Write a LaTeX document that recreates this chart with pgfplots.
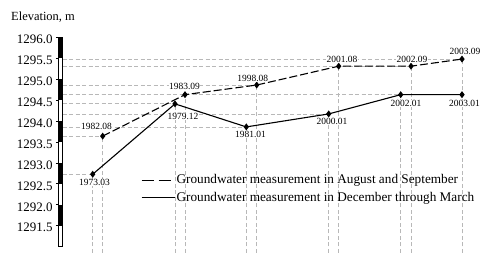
\documentclass[border=0pt]{standalone}
\usepackage{pgfplots}
\pgfplotsset{compat=1.18}
\usepackage{pgfplotstable}
\usepackage{fontspec}
\setmainfont{Liberation Serif}

% Groundwater measurement in August and September (dashed)
\pgfplotstableread{
x     y        label    dx    dy
102.7 1293.64  1982.08  -6.2  9.3
185.0 1294.63  1983.09  -0.5  7.8
256.7 1294.86  1998.08  -3.9  6.7
338.7 1295.31  2001.08   3.3  6.7
411.0 1295.31  2002.09   1.0  6.7
462.0 1295.48  2003.09   3.0  7.3
}\augsep

% Groundwater measurement in December through March (solid)
\pgfplotstableread{
x     y        label    dx    dy
92.7  1292.73  1973.03   1.8  -8.7
175.0 1294.41  1979.12   8.0  -12.5
246.3 1293.86  1981.01   4.2  -8.0
328.7 1294.17  2000.01   3.3  -7.7
400.7 1294.63  2002.01   5.3  -8.7
462.0 1294.63  2003.01   2.5  -8.7
}\decmar

\begin{document}
\begin{tikzpicture}
\begin{axis}[
  scale only axis, width=439.7bp, height=209.4bp,
  xmin=58.3, xmax=498, ymin=1291, ymax=1296,
  clip=false,
  axis line style={draw=none},
  xtick=\empty,
  ytick={1291.5,1292,1292.5,1293,1293.5,1294,1294.5,1295,1295.5,1296},
  ytick pos=left, tick align=outside, major tick length=2.5bp,
  tick style={black, line width=0.8bp},
  /pgf/number format/assume math mode=true,
  yticklabel style={font=\fontsize{13}{15}\selectfont, inner sep=0pt, xshift=-3bp, yshift=-2bp,
    /pgf/number format/.cd, fixed, fixed zerofill, precision=1, 1000 sep={}},
  legend style={draw=none, fill=none, at={(axis cs:141,1292.76)}, anchor=north west,
    font=\fontsize{13.3}{15}\selectfont, row sep=3.5bp, inner sep=0pt, nodes={inner sep=1.5bp}},
  legend cell align=left,
]
% grid lines (from the data points)
\addplot[forget plot, black!28, line width=0.8bp, dash pattern=on 4bp off 2.5bp,
  quiver={u=\thisrow{x}-62.7, v=0}] table[x expr=62.7,y=y]{\augsep};
\addplot[forget plot, black!28, line width=0.8bp, dash pattern=on 4bp off 2.5bp,
  quiver={u=\thisrow{x}-62.7, v=0}] table[x expr=62.7,y=y]{\decmar};
\addplot[forget plot, black!28, line width=0.8bp, dash pattern=on 4bp off 2.5bp,
  quiver={u=0, v=\thisrow{y}-1290.85}] table[x=x,y expr=1290.85]{\augsep};
\addplot[forget plot, black!28, line width=0.8bp, dash pattern=on 4bp off 2.5bp,
  quiver={u=0, v=\thisrow{y}-1290.85}] table[x=x,y expr=1290.85]{\decmar};

% data series
\addplot[black, line width=1.1bp, dash pattern=on 8bp off 3bp,
  mark=diamond*, mark size=2.6bp, mark options={solid},
  nodes near coords, point meta=explicit symbolic,
  visualization depends on={\thisrow{dx}\as\dx},
  visualization depends on={\thisrow{dy}\as\dy},
  every node near coord/.append style={anchor=center, xshift=\dx pt, yshift=\dy pt,
    font=\fontsize{9.5}{10}\selectfont, fill=white, inner sep=0.3bp, text=black},
  legend image code/.code={\draw[black, line width=0.9bp, dash pattern=on 12bp off 5bp] (0bp,0bp) -- (33bp,0bp);}
] table[x=x,y=y,meta=label]{\augsep};
\addlegendentry{Groundwater measurement in August and September}

\addplot[black, line width=1.1bp,
  mark=diamond*, mark size=2.6bp, mark options={solid},
  nodes near coords, point meta=explicit symbolic,
  visualization depends on={\thisrow{dx}\as\dx},
  visualization depends on={\thisrow{dy}\as\dy},
  every node near coord/.append style={anchor=center, xshift=\dx pt, yshift=\dy pt,
    font=\fontsize{9.5}{10}\selectfont, fill=white, inner sep=0.3bp, text=black},
  legend image code/.code={\draw[black, line width=0.9bp] (0bp,0bp) -- (33bp,0bp);}
] table[x=x,y=y,meta=label]{\decmar};
\addlegendentry{Groundwater measurement in December through March}

% elevation scale bar
\draw[black, line width=0.8bp, fill=white] (axis cs:58.3,1291) rectangle (axis cs:62.7,1296);
\fill[black] (axis cs:58.3,1295.5) rectangle (axis cs:62.7,1296);
\fill[black] (axis cs:58.3,1294.5) rectangle (axis cs:62.7,1295);
\fill[black] (axis cs:58.3,1293.5) rectangle (axis cs:62.7,1294);
\fill[black] (axis cs:58.3,1292.5) rectangle (axis cs:62.7,1293);
\fill[black] (axis cs:58.3,1291.5) rectangle (axis cs:62.7,1292);

\node[anchor=west, inner sep=0pt, font=\fontsize{12.5}{14}\selectfont] at (axis cs:11,1296.485) {Elevation, m};

\coordinate (bbsw) at (axis cs:0,1290.85);
\coordinate (bbne) at (axis cs:498,1296.8906);
\end{axis}
\pgfresetboundingbox
\path[use as bounding box] (bbsw) rectangle (bbne);
\end{tikzpicture}
\end{document}
